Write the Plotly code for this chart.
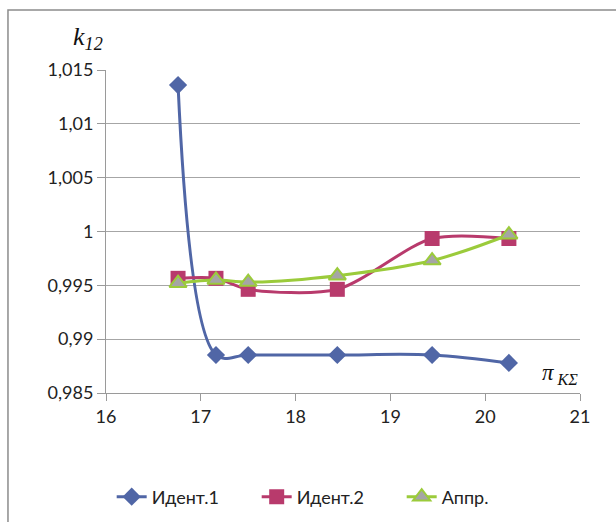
import plotly.graph_objects as go

# Pressure ratio values (x) and coefficient k12 for each series
pi_k = [16.76, 17.16, 17.50, 18.44, 19.44, 20.25]
ident1 = [1.0136, 0.98853, 0.98853, 0.98853, 0.98853, 0.98779]
ident2 = [0.99565, 0.99565, 0.99463, 0.99463, 0.99935, 0.99935]
appr = [0.9952, 0.9955, 0.9953, 0.9959, 0.9973, 0.9997]

y_ticks = [0.985, 0.99, 0.995, 1.0, 1.005, 1.01, 1.015]
y_tick_text = ["0,985", "0,99", "0,995", "1", "1,005", "1,01", "1,015"]
x_ticks = [16, 17, 18, 19, 20, 21]

BLUE = "#5066A6"
MAGENTA = "#B83A6C"
GREEN = "#9BCB3B"
GREY = "#A5A5A5"
FONT = "Lato"

fig = go.Figure()
fig.add_trace(go.Scatter(
    x=pi_k, y=ident1, name="Идент.1", mode="lines+markers",
    line=dict(color=BLUE, width=3, shape="spline", smoothing=1),
    marker=dict(symbol="diamond", size=14, color=BLUE),
))
fig.add_trace(go.Scatter(
    x=pi_k, y=ident2, name="Идент.2", mode="lines+markers",
    line=dict(color=MAGENTA, width=3, shape="spline", smoothing=0.8),
    marker=dict(symbol="square", size=15, color=MAGENTA),
))
fig.add_trace(go.Scatter(
    x=pi_k, y=appr, name="Аппр.", mode="lines+markers",
    line=dict(color=GREEN, width=3, shape="spline", smoothing=1),
    marker=dict(symbol="triangle-up", size=15, color=GREY,
                line=dict(color=GREEN, width=2)),
))

fig.update_layout(
    width=616, height=522,
    margin=dict(l=106, r=36, t=70, b=129, autoexpand=False),
    paper_bgcolor="white", plot_bgcolor="white",
    font=dict(family=FONT, size=18, color="#222222"),
    showlegend=True,
    legend=dict(orientation="h", x=0.012, xanchor="left",
                y=-0.322, yanchor="middle",
                font=dict(family=FONT, size=18, color="#222222"),
                itemwidth=30, entrywidth=100, entrywidthmode="pixels",
                tracegroupgap=0),
    xaxis=dict(range=[16, 21], tickvals=x_ticks, showgrid=False,
               showline=True, linecolor="#9a9a9a", linewidth=1,
               ticks="outside", ticklen=7, tickcolor="#9a9a9a",
               zeroline=False, tickfont=dict(size=18)),
    yaxis=dict(range=[0.985, 1.015], tickvals=y_ticks, ticktext=y_tick_text,
               showgrid=True, gridcolor="#a6a6a6", gridwidth=1,
               showline=True, linecolor="#9a9a9a", linewidth=1,
               ticks="outside", ticklen=8, tickcolor="#9a9a9a",
               zeroline=False, tickfont=dict(size=18)),
)

# Chart frame
fig.add_shape(type="rect", xref="paper", yref="paper",
              x0=-0.2068, y0=-0.45, x1=1.12, y1=1.1858,
              line=dict(color="#8c8c8c", width=1.5), layer="below")

# Axis titles
fig.add_annotation(xref="paper", yref="paper", x=-0.038, y=1.099,
                   xanchor="center", yanchor="middle", showarrow=False,
                   text="<i>k</i><sub><i>12</i></sub>",
                   font=dict(family="Liberation Serif", size=26, color="#111111"))
fig.add_annotation(xref="paper", yref="paper", x=1.0, y=0.058,
                   xanchor="right", yanchor="middle", showarrow=False,
                   text="<i>π</i><sub><i> KΣ</i></sub>",
                   font=dict(family="Liberation Serif", size=23, color="#111111"))

fig.write_html("out.html")
